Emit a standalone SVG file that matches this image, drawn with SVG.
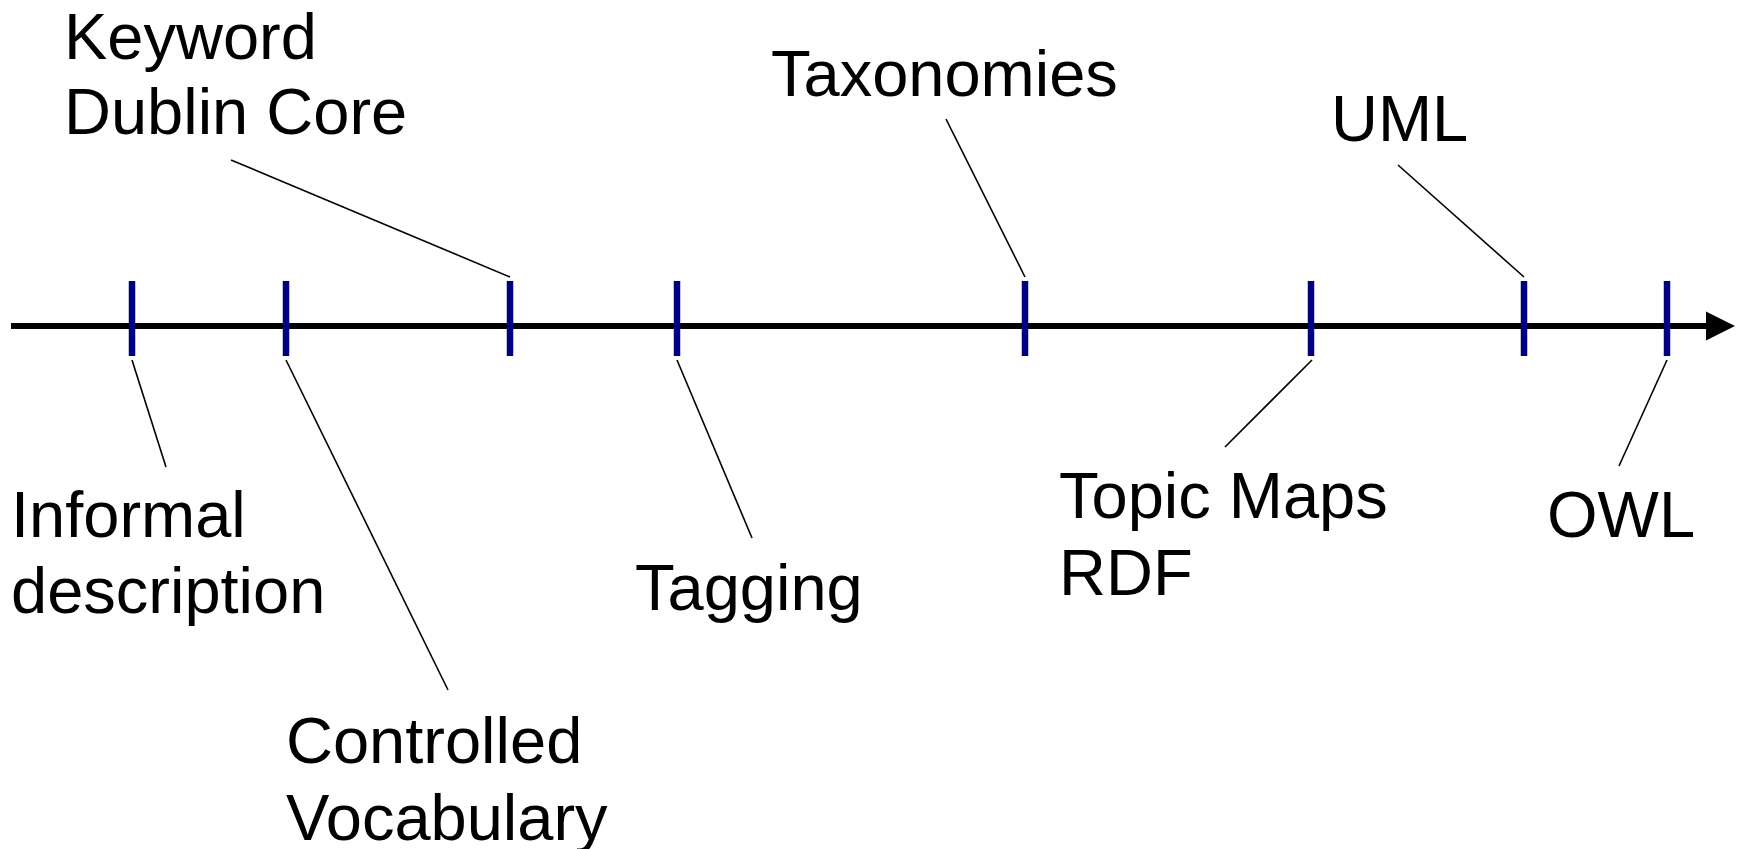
<svg xmlns="http://www.w3.org/2000/svg" width="1739" height="849" viewBox="0 0 1739 849">
<style>
text{font-family:"Liberation Sans",Arial,sans-serif;font-size:65px;fill:#000}
.tick{stroke:#000080;stroke-width:6.5}
.lead{stroke:#000;stroke-width:1.6}
.axis{stroke:#000;stroke-width:6}
</style>
<rect width="1739" height="849" fill="#fff"/>
<g id="axis">
<line class="axis" x1="11" y1="326" x2="1708" y2="326"/>
<polygon points="1706,311.5 1735,326 1706,340.5" fill="#000"/>
</g>
<g id="ticks">
<line class="tick" x1="132" y1="281" x2="132" y2="356"/>
<line class="tick" x1="286" y1="281" x2="286" y2="356"/>
<line class="tick" x1="510" y1="281" x2="510" y2="356"/>
<line class="tick" x1="677" y1="281" x2="677" y2="356"/>
<line class="tick" x1="1025" y1="281" x2="1025" y2="356"/>
<line class="tick" x1="1311" y1="281" x2="1311" y2="356"/>
<line class="tick" x1="1524" y1="281" x2="1524" y2="356"/>
<line class="tick" x1="1667" y1="281" x2="1667" y2="356"/>
</g>
<g id="connectors">
<line class="lead" x1="231" y1="160" x2="510" y2="277"/>
<line class="lead" x1="946" y1="119" x2="1025" y2="277"/>
<line class="lead" x1="1398" y1="165" x2="1524" y2="277"/>
<line class="lead" x1="132" y1="360" x2="166" y2="467"/>
<line class="lead" x1="286" y1="360" x2="448" y2="690"/>
<line class="lead" x1="677" y1="360" x2="752" y2="538"/>
<line class="lead" x1="1312" y1="360" x2="1225" y2="447"/>
<line class="lead" x1="1667" y1="360" x2="1619" y2="466"/>
</g>
<g id="n-keyword"><text x="64" y="59">Keyword</text><text x="64" y="134">Dublin Core</text></g>
<g id="n-taxonomies"><text x="771" y="96">Taxonomies</text></g>
<g id="n-uml"><text x="1331" y="141">UML</text></g>
<g id="n-informal"><text x="11" y="537">Informal</text><text x="11" y="613">description</text></g>
<g id="n-controlled"><text x="286" y="763">Controlled</text><text x="286" y="840">Vocabulary</text></g>
<g id="n-tagging"><text x="635" y="610">Tagging</text></g>
<g id="n-topicmaps"><text x="1059" y="518">Topic Maps</text><text x="1059" y="595">RDF</text></g>
<g id="n-owl"><text x="1547" y="537">OWL</text></g>
</svg>
